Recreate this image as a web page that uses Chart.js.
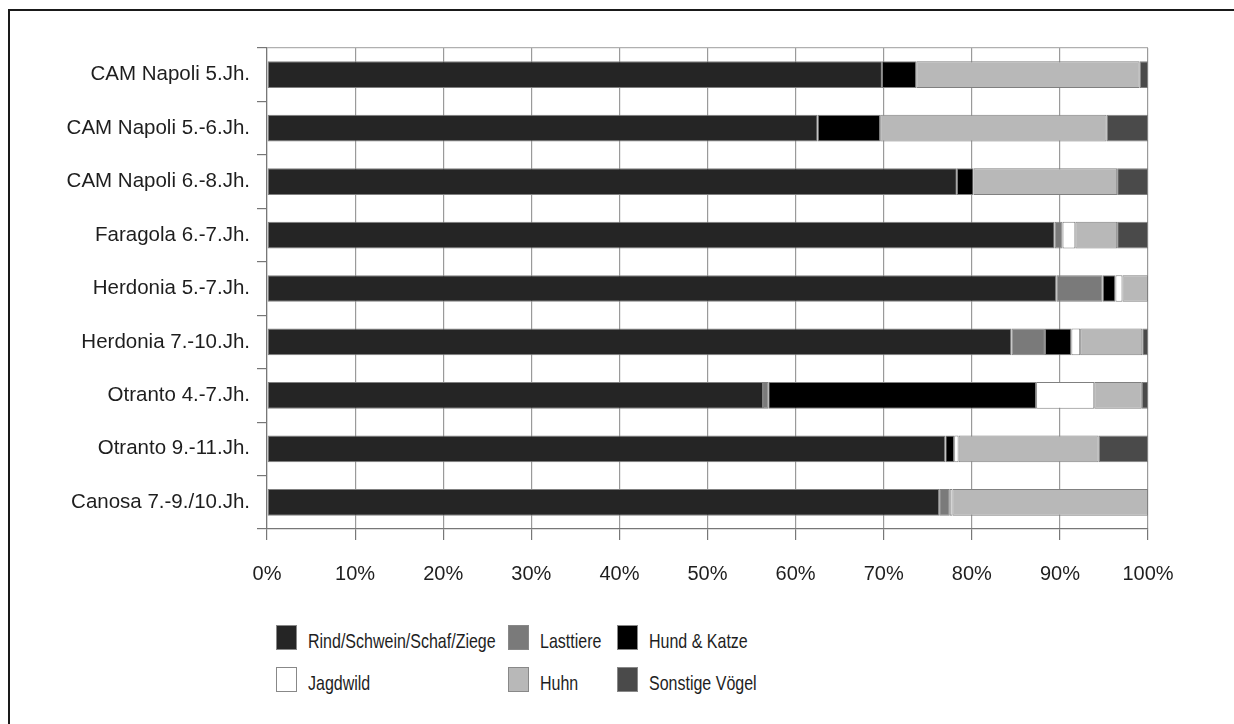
<!DOCTYPE html>
<html>
<head>
<meta charset="utf-8">
<script src="https://cdn.jsdelivr.net/npm/chart.js@4"></script>
<style>
html,body{margin:0;background:#fff;overflow:hidden;font-family:"Liberation Sans",Arial,sans-serif;}
#rahmen{position:absolute;left:8px;top:9px;width:1200px;height:800px;border-left:2px solid #1a1a1a;border-top:2px solid #1a1a1a;}
#rahmen2{position:absolute;left:1000px;top:9px;width:240px;height:2px;background:#1a1a1a;}
#wrap{position:absolute;left:0;top:0;width:1234px;height:600px;}
#legende{position:absolute;left:276px;top:625px;display:grid;grid-template-columns:232px 109px 200px;grid-auto-rows:42px;}
.item{display:flex;align-items:flex-start;font-size:16px;color:#1e1e1e;}
.box{width:19px;height:23px;border:1px solid #888;margin-right:11px;flex:none;}
.item span{margin-top:8px;display:inline-block;transform:scaleY(1.3);transform-origin:left center;}
</style>
</head>
<body>
<div id="rahmen"></div>
<div id="rahmen2"></div>
<div id="wrap"><canvas id="grafik"></canvas></div>
<div id="legende"></div>
<script>
// =========================
// DATEN
// =========================

let fundorte = ["CAM Napoli 5.Jh.","CAM Napoli 5.-6.Jh.","CAM Napoli 6.-8.Jh.","Faragola 6.-7.Jh.","Herdonia 5.-7.Jh.","Herdonia 7.-10.Jh.","Otranto 4.-7.Jh.","Otranto 9.-11.Jh.","Canosa 7.-9./10.Jh."];

let rind      = [69.8, 62.5, 78.3, 89.4, 89.6, 84.5, 56.3, 77.0, 76.3];
let lasttiere = [0, 0, 0, 0.9, 5.25, 3.8, 0.6, 0, 1.2];
let hund      = [3.9, 7.1, 1.9, 0, 1.45, 3.0, 30.4, 1.0, 0];
let jagdwild  = [0, 0, 0, 1.45, 0.8, 1.0, 6.6, 0.5, 0.3];
let huhn      = [25.35, 25.7, 16.3, 4.75, 2.9, 7.05, 5.4, 15.9, 22.2];
let sonstige  = [0.95, 4.7, 3.5, 3.5, 0, 0.65, 0.7, 5.6, 0];

let xTicks = [0,10,20,30,40,50,60,70,80,90,100];


// =========================
// GRAFIK
// =========================

function serie(name, werte, farbe){
return {
label:name,
data:werte,
backgroundColor:farbe,
borderColor:"#808080",
borderWidth:1,
borderSkipped:false,
barPercentage:0.5,
categoryPercentage:1
};
}

let ctx = document.getElementById("grafik");

let chart = new Chart(ctx,{
type:"bar",
data:{
labels:fundorte,
datasets:[
serie("Rind/Schwein/Schaf/Ziege", rind, "#252525"),
serie("Lasttiere", lasttiere, "#7a7a7a"),
serie("Hund & Katze", hund, "#000000"),
serie("Jagdwild", jagdwild, "#ffffff"),
serie("Huhn", huhn, "#b8b8b8"),
serie("Sonstige Vögel", sonstige, "#4a4a4a")
]
},
options:{
indexAxis:"y",
responsive:true,
maintainAspectRatio:false,
animation:false,
layout:{padding:{top:48,right:86,left:0,bottom:0}},
plugins:{legend:{display:false},tooltip:{enabled:false}},
scales:{
x:{
stacked:true,
min:0,
max:100,
afterFit:function(s){ s.height = 71; },
afterBuildTicks:function(s){ s.ticks = xTicks.map(function(v){ return {value:v}; }); },
ticks:{
color:"#1e1e1e",
padding:22,
font:{family:"Liberation Sans",size:20},
callback:function(v){ return v + "%"; }
},
grid:{color:"#9a9a9a",lineWidth:1.2,tickLength:11,tickColor:"#777"},
border:{display:true,color:"#777",width:1.2}
},
y:{
stacked:true,
offset:true,
afterFit:function(s){ s.width = 267; },
ticks:{color:"#1e1e1e",padding:7,font:{family:"Liberation Sans",size:20.5}},
grid:{
offset:true,
tickLength:10,
tickColor:"#777",
lineWidth:1.2,
color:function(c){ return c.index === 0 ? "#b0b0b0" : "rgba(0,0,0,0)"; }
},
border:{display:true,color:"#777",width:1.2}
}
}
}
});


// =========================
// LEGENDE
// =========================

function tampilLegende(){
let el = document.getElementById("legende");
el.innerHTML = "";
chart.data.datasets.forEach(function(ds){
el.innerHTML += `
<div class="item"><div class="box" style="background:${ds.backgroundColor}"></div><span>${ds.label}</span></div>
`;
});
}

tampilLegende();
</script>
</body>
</html>
